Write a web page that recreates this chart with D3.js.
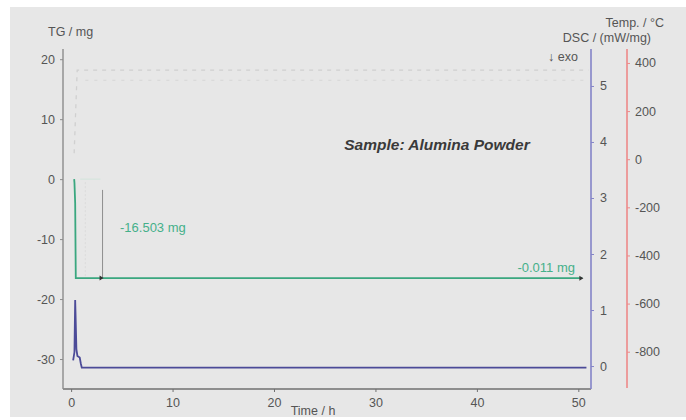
<!DOCTYPE html>
<html>
<head>
<meta charset="utf-8">
<script src="https://cdn.jsdelivr.net/npm/d3@7"></script>
<style>
  html, body { margin: 0; padding: 0; background: #ffffff; }
  svg { display: block; font-family: "Liberation Sans", Arial, sans-serif; }
</style>
</head>
<body>
<svg id="chart" width="686" height="420"></svg>
<script>
// Tick values for each axis
const timeTicks = [0, 10, 20, 30, 40, 50];
const tgTicks = [20, 10, 0, -10, -20, -30];
const dscTicks = [0, 1, 2, 3, 4, 5];
const tempTicks = [400, 200, 0, -200, -400, -600, -800];

// TG curve (mg) vs time (h)
const tgTime  = [0.30, 0.33, 0.40, 0.46, 3.1, 50.4];
const tgValue = [0, -0.6, -4.0, -16.503, -16.503, -16.514];

// DSC curve (mW/mg) vs time (h)
const dscTime  = [0.20, 0.33, 0.40, 0.44, 0.52, 0.62, 0.85, 0.95, 1.05, 50.8];
const dscValue = [0.10, 0.25, 1.18, 0.90, 0.30, 0.18, 0.15, 0.05, -0.03, -0.03];

// Temperature traces (°C) vs time (h)
const tempTime   = [0.30, 0.45, 0.60, 51.0];
const tempValue  = [25, 200, 370, 370];
const temp2Time  = [1.4, 51.0];
const temp2Value = [328, 328];

// Step annotations
const stepLabels = ["-16.503 mg", "-0.011 mg"];
const stepTimes = [3.1, 50.4];

const svg = d3.select("#chart");

// Panel background
svg.append("rect").attr("x", 10).attr("y", 7).attr("width", 676).attr("height", 410).attr("fill", "#e7e7e7");

const plotLeft = 63, plotRight = 591, plotTop = 49, plotBottom = 389;

const x = d3.scaleLinear().domain([-0.8, 51.25]).range([plotLeft, plotRight]);
const yTG = d3.scaleLinear().domain([-35.0, 21.7]).range([plotBottom, plotTop]);
const yDSC = d3.scaleLinear().domain([-0.41, 5.66]).range([plotBottom, plotTop]);
const yTemp = d3.scaleLinear().domain([-955, 458]).range([plotBottom, plotTop]);

const textCol = "#555555";
const plain = d => String(d);

// Axes
const xAxis = svg.append("g").attr("transform", `translate(0,${plotBottom})`)
  .call(d3.axisBottom(x).tickValues(timeTicks).tickFormat(plain).tickSize(3).tickPadding(6));
const tgAxis = svg.append("g").attr("transform", `translate(${plotLeft},0)`)
  .call(d3.axisLeft(yTG).tickValues(tgTicks).tickFormat(plain).tickSize(3).tickPadding(5));
const dscAxis = svg.append("g").attr("transform", `translate(${plotRight},0)`)
  .call(d3.axisRight(yDSC).tickValues(dscTicks).tickFormat(plain).tickSize(3).tickPadding(6));
const tempAxis = svg.append("g").attr("transform", `translate(627,0)`)
  .call(d3.axisRight(yTemp).tickValues(tempTicks).tickFormat(plain).tickSize(3).tickPadding(5));

function styleAxis(g, col, width) {
  g.select(".domain").attr("stroke", col).attr("stroke-width", width);
  g.selectAll(".tick line").attr("stroke", col);
  g.selectAll(".tick text").attr("fill", textCol).attr("font-size", 12.5)
    .attr("font-family", "Liberation Sans, Arial, sans-serif");
}
styleAxis(xAxis, "#707070", 1.6);
styleAxis(tgAxis, "#8c8c8c", 1.4);
styleAxis(dscAxis, "#8585c8", 1.6);
styleAxis(tempAxis, "#ee8a8a", 1.6);
xAxis.select(".domain").attr("d", `M${plotLeft},0H${plotRight}`);
tgAxis.select(".domain").attr("d", `M0,${plotTop}V${plotBottom}`);
dscAxis.select(".domain").attr("d", `M0,${plotTop}V${plotBottom}`);
tempAxis.select(".domain").attr("d", `M0,${plotTop}V${plotBottom - 1}`);

// Axis titles
const title = (txt, xx, yy, anchor) => svg.append("text").attr("x", xx).attr("y", yy)
  .attr("text-anchor", anchor).attr("font-size", 12.5).attr("fill", textCol).text(txt);
title("TG / mg", 48, 36, "start");
title("Temp. / °C", 664, 27, "end");
title("DSC / (mW/mg)", 651, 42, "end");
title("↓ exo", 578, 61, "end");
title("Time / h", 313, 415, "middle");

// Temperature traces (faint dashed)
const lineT = d3.line().x(d => x(d[0])).y(d => yTemp(d[1]));
svg.append("path").datum(d3.zip(tempTime, tempValue)).attr("d", lineT)
  .attr("fill", "none").attr("stroke", "#d0d0d0").attr("stroke-width", 1.3).attr("stroke-dasharray", "4,5");
svg.append("path").datum(d3.zip(temp2Time, temp2Value)).attr("d", lineT)
  .attr("fill", "none").attr("stroke", "#d6d6d6").attr("stroke-width", 1.1).attr("stroke-dasharray", "3,6");

// Step construction lines
svg.append("line").attr("x1", x(0.9)).attr("x2", x(2.9)).attr("y1", yTG(0)).attr("y2", yTG(0))
  .attr("stroke", "#d2e4dc").attr("stroke-width", 1);
svg.append("line").attr("x1", x(1.4)).attr("x2", x(1.4)).attr("y1", yTG(-0.5)).attr("y2", yTG(-16.503))
  .attr("stroke", "#d8d8d8").attr("stroke-width", 0.8).attr("stroke-dasharray", "2,2");
svg.append("line").attr("x1", x(stepTimes[0])).attr("x2", x(stepTimes[0]))
  .attr("y1", yTG(-1.8)).attr("y2", yTG(-16.503))
  .attr("stroke", "#8e8e8e").attr("stroke-width", 1);

// TG curve
const lineTG = d3.line().x((d) => x(d[0])).y(d => yTG(d[1]));
svg.append("path").datum(d3.zip(tgTime, tgValue)).attr("d", lineTG)
  .attr("fill", "none").attr("stroke", "#3aa77f").attr("stroke-width", 1.8);

// DSC curve
const lineDSC = d3.line().x(d => x(d[0])).y(d => yDSC(d[1]));
svg.append("path").datum(d3.zip(dscTime, dscValue)).attr("d", lineDSC)
  .attr("fill", "none").attr("stroke", "#4c4b98").attr("stroke-width", 1.8);

// Step markers
stepTimes.forEach((t, i) => {
  const v = i === 0 ? -16.503 : -16.514;
  const px = x(t), py = yTG(v);
  svg.append("path").attr("d", `M${px - 3},${py - 2.5}L${px + 1},${py}L${px - 3},${py + 2.5}Z`)
    .attr("fill", "#333");
});

// Step labels
svg.append("text").attr("x", 120).attr("y", 232).attr("font-size", 13)
  .attr("fill", "#45b08a").text(stepLabels[0]);
svg.append("text").attr("x", 575).attr("y", 272).attr("text-anchor", "end").attr("font-size", 13)
  .attr("fill", "#45b08a").text(stepLabels[1]);

// Sample caption
svg.append("text").attr("x", 437).attr("y", 150).attr("text-anchor", "middle")
  .attr("font-size", 15.5).attr("font-weight", "bold").attr("font-style", "italic")
  .attr("fill", "#3a3a3a").text("Sample: Alumina Powder");
</script>
</body>
</html>
